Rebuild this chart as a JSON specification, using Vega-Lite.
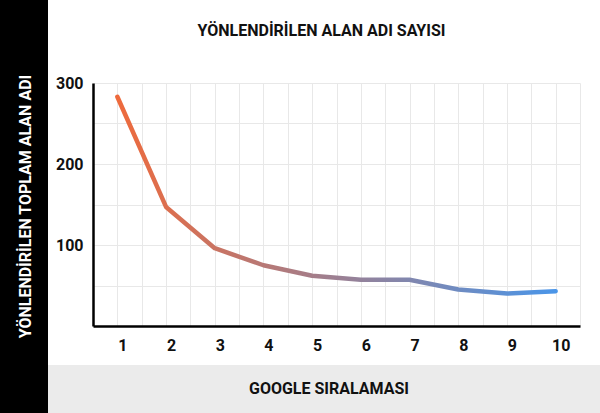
{
  "$schema": "https://vega.github.io/schema/vega-lite/v6.json",
  "background": "white",
  "padding": 0,
  "spacing": 0,
  "config": {
    "font": "Roboto",
    "view": {"stroke": null}
  },
  "datasets": {
    "rank": [
      {"rank": 1, "count": 283},
      {"rank": 2, "count": 147},
      {"rank": 3, "count": 96},
      {"rank": 4, "count": 75},
      {"rank": 5, "count": 62},
      {"rank": 6, "count": 57},
      {"rank": 7, "count": 57},
      {"rank": 8, "count": 45},
      {"rank": 9, "count": 40},
      {"rank": 10, "count": 43}
    ],
    "ytitle": [{"t": "YÖNLENDİRİLEN TOPLAM ALAN ADI"}],
    "title": [{"t": "YÖNLENDİRİLEN ALAN ADI SAYISI"}],
    "xtitle": [{"t": "GOOGLE SIRALAMASI"}],
    "empty": []
  },
  "hconcat": [
    {
      "width": 48,
      "height": 413,
      "view": {"fill": "black", "stroke": null},
      "data": {"name": "ytitle"},
      "mark": {
        "type": "text",
        "angle": 270,
        "color": "white",
        "font": "Roboto",
        "fontWeight": "bold",
        "fontSize": 16,
        "dy": 1.5
      },
      "encoding": {"text": {"field": "t", "type": "nominal"}}
    },
    {
      "spacing": 0,
      "vconcat": [
        {
          "width": 552,
          "height": 75,
          "data": {"name": "title"},
          "mark": {
            "type": "text",
            "font": "Roboto",
            "fontWeight": "bold",
            "fontSize": 16,
            "color": "#111111",
            "dx": -2.5,
            "dy": -6.5
          },
          "encoding": {"text": {"field": "t", "type": "nominal"}}
        },
        {
          "bounds": "flush",
          "spacing": 44,
          "hconcat": [
            {
              "width": 1,
              "height": 282,
              "data": {"name": "empty"},
              "mark": "point"
            },
            {
              "width": 487,
              "height": 243,
              "data": {"name": "rank"},
              "mark": {
                "type": "line",
                "strokeWidth": 4.5,
                "strokeCap": "round",
                "strokeJoin": "round",
                "color": {
                  "gradient": "linear",
                  "x1": 0,
                  "y1": 0,
                  "x2": 1,
                  "y2": 0,
                  "stops": [
                    {"offset": 0, "color": "#EE6A3C"},
                    {"offset": 1, "color": "#4A95E8"}
                  ]
                }
              },
              "encoding": {
                "x": {
                  "field": "rank",
                  "type": "quantitative",
                  "scale": {"domain": [0.5, 10.5], "nice": false, "zero": false},
                  "axis": {
                    "title": null,
                    "values": [0.5, 1, 1.5, 2, 2.5, 3, 3.5, 4, 4.5, 5, 5.5, 6, 6.5, 7, 7.5, 8, 8.5, 9, 9.5, 10, 10.5],
                    "labelExpr": "datum.value % 1 == 0 ? format(datum.value, 'd') : ''",
                    "labelOverlap": false,
                    "labelFlush": false,
                    "labelOffset": 5,
                    "labelPadding": 11,
                    "labelFont": "Roboto",
                    "labelFontSize": 16,
                    "labelFontWeight": "bold",
                    "labelColor": "#111111",
                    "ticks": false,
                    "domainColor": "black",
                    "domainWidth": 2.5,
                    "grid": true,
                    "gridColor": "#e8e8e8",
                    "minExtent": 38,
                    "maxExtent": 38
                  }
                },
                "y": {
                  "field": "count",
                  "type": "quantitative",
                  "scale": {"domain": [0, 300], "nice": false},
                  "axis": {
                    "title": null,
                    "values": [0, 50, 100, 150, 200, 250, 300],
                    "labelExpr": "datum.value % 100 == 0 && datum.value > 0 ? datum.label : ''",
                    "labelPadding": 10,
                    "labelFont": "Roboto",
                    "labelFontSize": 16,
                    "labelFontWeight": "bold",
                    "labelColor": "#111111",
                    "ticks": false,
                    "domainColor": "black",
                    "domainWidth": 2.5,
                    "grid": true,
                    "gridColor": "#e8e8e8",
                    "minExtent": 45,
                    "maxExtent": 45
                  }
                }
              }
            }
          ]
        },
        {
          "width": 552,
          "height": 48,
          "view": {"fill": "#ebebeb", "stroke": null},
          "data": {"name": "xtitle"},
          "mark": {
            "type": "text",
            "font": "Roboto",
            "fontWeight": "bold",
            "fontSize": 16,
            "color": "#111111",
            "dx": 5
          },
          "encoding": {"text": {"field": "t", "type": "nominal"}}
        }
      ]
    }
  ]
}
